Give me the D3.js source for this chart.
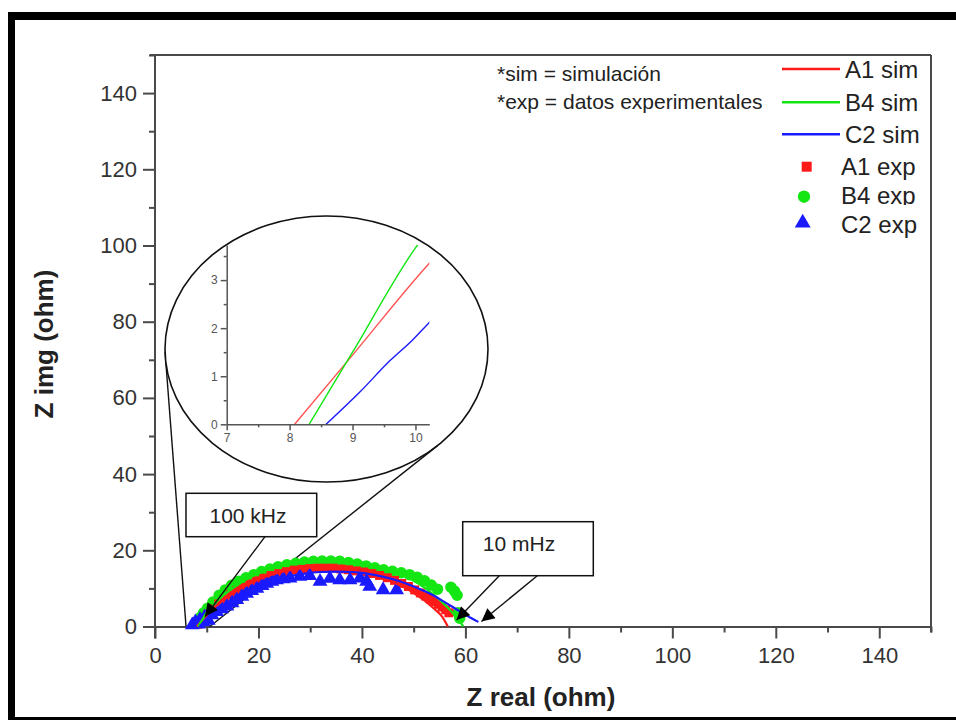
<!DOCTYPE html>
<html>
<head>
<meta charset="utf-8">
<script src="https://cdn.jsdelivr.net/npm/d3@7"></script>
<style>
  html, body { margin: 0; padding: 0; background: #fff; }
  svg { display: block; font-family: "Liberation Sans", Arial, Helvetica, sans-serif; }
</style>
</head>
<body>
<svg id="chart" width="956" height="720"></svg>
<script>
// ---- Impedance data: [Z real, Z img] in ohm ----
const simA1 = [[8.08,0],[9.0,1.44],[10.22,3.35],[12,5.6],[14,7.7],[16,9.5],[18,11.0],[20,12.3],[23,13.8],[26,14.8],[29,15.4],[32,15.6],[35,15.4],[38,14.9],[41,14.0],[44,12.8],[47,11.0],[50,8.8],[52,6.9],[54,4.6],[55.5,2.6],[56.6,0]];
const simB4 = [[8.31,0],[9.0,1.5],[10.0,3.67],[11,5.2],[13,7.9],[15,10.0],[17,11.8],[20,13.9],[23,15.4],[26,16.5],[29,17.2],[32,17.6],[35,17.6],[38,17.2],[41,16.5],[44,15.5],[47,14.0],[50,12.0],[52,10.3],[54,8.2],[56,5.7],[57.5,3.6],[58.8,1.5],[59.6,0]];
const simC2 = [[8.58,0],[9.1,0.65],[9.6,1.33],[9.95,1.75],[10.22,2.12],[12,4.1],[14,6.1],[16,7.8],[18,9.3],[20,10.6],[23,12.1],[26,13.2],[29,13.9],[32,14.3],[35,14.4],[38,14.3],[41,13.9],[44,13.1],[47,12.0],[50,10.5],[53,8.7],[56,6.4],[59,3.9],[61,2.3],[62.5,1.2]];

const expA1 = [[8.3,0.6],[9.2,1.8],[10.2,3.2],[11.2,4.6],[12.3,5.9],[13.4,7.1],[14.6,8.3],[15.8,9.4],[17.0,10.3],[18.3,11.2],[19.6,12.0],[21.0,12.7],[22.4,13.4],[23.9,13.9],[25.4,14.4],[26.9,14.8],[28.4,15.0],[29.9,15.2],[31.4,15.3],[32.9,15.3],[34.4,15.3],[35.9,15.1],[37.4,14.9],[38.9,14.6],[40.4,14.3],[41.9,13.9],[43.4,13.4],[44.9,12.8],[46.3,12.1],[47.7,11.3],[49.0,10.5],[50.2,9.6],[51.3,8.8],[52.3,8.0],[53.2,7.2],[54.0,6.5],[54.8,5.8],[55.5,5.1],[56.2,4.4],[56.8,3.6]];
const expB4 = [[8.3,1.0],[8.8,2.4],[9.4,3.6],[10.2,4.8],[11.2,6.4],[12.4,8.2],[13.6,9.6],[14.8,10.8],[16.2,11.9],[17.6,12.8],[19.1,13.6],[20.6,14.4],[22.2,15.1],[23.8,15.7],[25.5,16.2],[27.2,16.6],[28.9,16.9],[30.6,17.1],[32.3,17.2],[34.0,17.2],[35.7,17.1],[37.4,16.8],[39.1,16.4],[40.8,15.9],[42.5,15.4],[44.2,14.9],[45.9,14.5],[47.6,14.1],[49.2,13.6],[50.7,12.9],[52.1,12.0],[53.4,10.9],[54.6,9.8],[57.2,10.3],[57.9,9.3],[58.4,8.2],[58.6,3.6],[58.9,2.2]];
const expC2 = [[7.2,0.4],[7.8,1.2],[8.4,0.6],[8.7,1.8],[9.3,1.2],[9.6,2.5],[10.3,1.6],[11.0,3.0],[11.9,3.9],[12.9,4.6],[13.9,5.3],[14.9,6.2],[15.8,7.0],[16.8,7.9],[17.7,8.7],[18.7,9.4],[19.7,10.0],[20.7,10.7],[21.6,11.3],[22.6,11.8],[23.5,12.2],[24.8,12.5],[26.1,12.7],[28.0,13.1],[29.9,13.3],[31.9,11.8],[33.8,12.6],[35.7,12.2],[37.7,12.2],[39.6,12.7],[40.9,11.8],[41.5,10.5],[44.1,9.6],[46.7,9.6]];

// ---- Axis ticks ----
const majorTicks = [0,20,40,60,80,100,120,140];
const minorTicks = [10,30,50,70,90,110,130,150];
const insetXTicks = [7,8,9,10];
const insetXMinor = [7.5,8.5,9.5];
const insetYTicks = [0,1,2,3];
const insetYMinor = [0.5,1.5,2.5,3.5];

// ---- Labels ----
const xTitle = "Z real (ohm)";
const yTitle = "Z img (ohm)";
const noteLines = ["*sim = simulación", "*exp = datos experimentales"];
const simLabels = ["A1 sim", "B4 sim", "C2 sim"];
const expLabels = ["A1 exp", "B4 exp", "C2 exp"];
const colors = ["#ff1a1a", "#14e614", "#1a1aff"];
const freqLabels = ["100 kHz", "10 mHz"];
// arrow tips in data units
const arrowTips = [[9.66,2.6],[58.3,1.7],[63.1,1.3]];
// feet of the zoom-indicator lines on the real axis
const zoomFeet = [[6.0,0],[10.6,0]];

const svg = d3.select("#chart");
const axisColor = "#4a4a4a";
const textColor = "#333";

// outer frame
svg.append("rect").attr("x",8).attr("y",12).attr("width",948).attr("height",8).attr("fill","#000");
svg.append("rect").attr("x",8).attr("y",12).attr("width",7).attr("height",708).attr("fill","#000");
svg.append("rect").attr("x",8).attr("y",717).attr("width",948).attr("height",3).attr("fill","#000");

// main scales
const x = d3.scaleLinear().domain([0,150]).range([155,931]);
const y = d3.scaleLinear().domain([0,150]).range([626.5,55]);

// defs: arrowhead
const defs = svg.append("defs");
defs.append("marker").attr("id","arrowhead").attr("viewBox","0 0 10 10")
  .attr("refX",10).attr("refY",5).attr("markerWidth",15).attr("markerHeight",13)
  .attr("markerUnits","userSpaceOnUse").attr("orient","auto")
  .append("path").attr("d","M0,0L10,5L0,10Z").attr("fill","#000");

// box top and right edges
svg.append("line").attr("x1",x(0)-5).attr("x2",x(150)).attr("y1",y(150)).attr("y2",y(150))
  .attr("stroke",axisColor).attr("stroke-width",2);
svg.append("line").attr("x1",x(150)).attr("x2",x(150)).attr("y1",y(150)).attr("y2",y(0)+6)
  .attr("stroke",axisColor).attr("stroke-width",2);

function styleAxis(g){
  g.select(".domain").attr("stroke",axisColor).attr("stroke-width",2);
  g.selectAll(".tick line").attr("stroke",axisColor).attr("stroke-width",2);
  g.selectAll(".tick text").attr("fill",textColor);
}

// x axis
const gx = svg.append("g").attr("transform",`translate(0,${y(0)})`)
  .call(d3.axisBottom(x).tickValues(majorTicks).tickSize(12).tickPadding(9).tickSizeOuter(0).tickFormat(d3.format("d")));
gx.attr("font-size",22).attr("font-family",null);
styleAxis(gx);
const gxm = svg.append("g").attr("transform",`translate(0,${y(0)})`)
  .call(d3.axisBottom(x).tickValues(minorTicks).tickSize(6).tickSizeOuter(0).tickFormat(""));
styleAxis(gxm); gxm.select(".domain").remove();

// y axis
const gy = svg.append("g").attr("transform",`translate(${x(0)},0)`)
  .call(d3.axisLeft(y).tickValues(majorTicks).tickSize(12).tickPadding(6).tickSizeOuter(0).tickFormat(d3.format("d")));
gy.attr("font-size",22).attr("font-family",null);
styleAxis(gy);
gy.select(".domain").attr("d",`M0,${y(150)}V${y(0)+12}`);
const gym = svg.append("g").attr("transform",`translate(${x(0)},0)`)
  .call(d3.axisLeft(y).tickValues(minorTicks).tickSize(6).tickSizeOuter(0).tickFormat(""));
styleAxis(gym); gym.select(".domain").remove();

// axis titles
svg.append("text").attr("x",541).attr("y",706).attr("text-anchor","middle")
  .attr("font-size",26).attr("font-weight","bold").attr("fill","#222").text(xTitle);
svg.append("text").attr("transform","translate(53,344) rotate(-90)").attr("text-anchor","middle")
  .attr("font-size",26).attr("font-weight","bold").attr("fill","#222").text(yTitle);

// inset ellipse and zoom-indicator lines
const ell = {cx:326.5, cy:349, rx:161.5, ry:133};
const ellPoint = a => [ell.cx + ell.rx*Math.cos(a), ell.cy + ell.ry*Math.sin(a)];
const zoomStarts = [ellPoint(Math.PI - 0.02), ellPoint(0.81)];
zoomFeet.forEach((f,i)=>{
  svg.append("line").attr("x1",zoomStarts[i][0]).attr("y1",zoomStarts[i][1])
    .attr("x2",x(f[0])).attr("y2",y(f[1])).attr("stroke","#111").attr("stroke-width",1.4);
});

// experimental points
const line = d3.line().x(d=>x(d[0])).y(d=>y(d[1])).curve(d3.curveMonotoneX);
const sq = d3.symbol().type(d3.symbolSquare).size(80);
const ci = d3.symbol().type(d3.symbolCircle).size(105);
const tr = d3.symbol().type(d3.symbolTriangle).size(95);

svg.append("g").selectAll("path").data(expB4).join("path")
  .attr("d",ci).attr("transform",d=>`translate(${x(d[0])},${y(d[1])})`).attr("fill",colors[1]);
svg.append("g").selectAll("path").data(expA1).join("path")
  .attr("d",sq).attr("transform",d=>`translate(${x(d[0])},${y(d[1])})`).attr("fill",colors[0]);
svg.append("g").selectAll("path").data(expC2).join("path")
  .attr("d",tr).attr("transform",d=>`translate(${x(d[0])},${y(d[1])})`).attr("fill",colors[2]);

// simulated curves
[simA1, simB4, simC2].forEach((s,i)=>{
  svg.append("path").datum(s).attr("d",line).attr("fill","none")
    .attr("stroke",colors[i]).attr("stroke-width",2.2);
});

// inset
svg.append("ellipse").attr("cx",ell.cx).attr("cy",ell.cy).attr("rx",ell.rx).attr("ry",ell.ry)
  .attr("fill","#fff").attr("stroke","#111").attr("stroke-width",1.6);
const xi = d3.scaleLinear().domain([7,10.22]).range([226.7,429.3]);
const yi = d3.scaleLinear().domain([0,3.73]).range([424.3,245]);
const insetColor = "#555";
const gxi = svg.append("g").attr("transform",`translate(0,${yi(0)})`)
  .call(d3.axisBottom(xi).tickValues(insetXTicks).tickSize(6).tickPadding(3).tickSizeOuter(0).tickFormat(d3.format("d")));
const gxim = svg.append("g").attr("transform",`translate(0,${yi(0)})`)
  .call(d3.axisBottom(xi).tickValues(insetXMinor).tickSize(3).tickSizeOuter(0).tickFormat(""));
const gyi = svg.append("g").attr("transform",`translate(${xi(7)},0)`)
  .call(d3.axisLeft(yi).tickValues(insetYTicks).tickSize(6).tickPadding(3).tickSizeOuter(0).tickFormat(d3.format("d")));
const gyim = svg.append("g").attr("transform",`translate(${xi(7)},0)`)
  .call(d3.axisLeft(yi).tickValues(insetYMinor).tickSize(3).tickSizeOuter(0).tickFormat(""));
[gxi,gxim,gyi,gyim].forEach(g=>{
  g.attr("font-size",12).attr("font-family",null);
  g.select(".domain").attr("stroke",insetColor).attr("stroke-width",1.5);
  g.selectAll(".tick line").attr("stroke",insetColor).attr("stroke-width",1.5);
  g.selectAll(".tick text").attr("fill",insetColor);
});
gxim.select(".domain").remove(); gyim.select(".domain").remove();

defs.append("clipPath").attr("id","insetClip").append("rect")
  .attr("x",xi(7)).attr("y",yi(3.73)).attr("width",xi(10.22)-xi(7)).attr("height",yi(0)-yi(3.73));
const lineI = d3.line().x(d=>xi(d[0])).y(d=>yi(d[1])).curve(d3.curveMonotoneX);
const insetG = svg.append("g").attr("clip-path","url(#insetClip)");
[simA1, simB4, simC2].forEach((s,i)=>{
  insetG.append("path").datum(s.filter(d=>d[0] <= 12.5)).attr("d",lineI).attr("fill","none")
    .attr("stroke",colors[i]).attr("stroke-width",1.4).attr("opacity",i===0?0.75:1);
});

// frequency annotation boxes and arrows
const boxes = [
  {x:186, y:493.3, w:130.7, h:43.4, tx:248, ty:522.5, label:freqLabels[0], from:[[265,536.7]], tips:[arrowTips[0]]},
  {x:462.7, y:521.7, w:130.6, h:54, tx:519, ty:550.5, label:freqLabels[1], from:[[499.3,575.7],[537.3,575.7]], tips:[arrowTips[1],arrowTips[2]]}
];
boxes.forEach(b=>{
  b.from.forEach((f,i)=>{
    svg.append("line").attr("x1",f[0]).attr("y1",f[1]).attr("x2",x(b.tips[i][0])).attr("y2",y(b.tips[i][1]))
      .attr("stroke","#111").attr("stroke-width",1.4).attr("marker-end","url(#arrowhead)");
  });
  svg.append("rect").attr("x",b.x).attr("y",b.y).attr("width",b.w).attr("height",b.h)
    .attr("fill","#fff").attr("stroke","#111").attr("stroke-width",1.5);
  svg.append("text").attr("x",b.tx).attr("y",b.ty).attr("text-anchor","middle")
    .attr("font-size",21).attr("fill","#222").text(b.label);
});

// notes
noteLines.forEach((t,i)=>{
  svg.append("text").attr("x",497).attr("y",[81,109][i]).attr("font-size",21).attr("fill","#222").text(t);
});

// legend
const simRows = [69,102.3,134.3];
simLabels.forEach((t,i)=>{
  svg.append("line").attr("x1",782).attr("x2",840).attr("y1",simRows[i]).attr("y2",simRows[i])
    .attr("stroke",colors[i]).attr("stroke-width",2.5);
  svg.append("text").attr("x",845).attr("y",simRows[i]+9).attr("font-size",24).attr("fill","#222").text(t);
});
const expRows = [166.7,196.7,223];
const legSyms = [
  d3.symbol().type(d3.symbolSquare).size(100),
  d3.symbol().type(d3.symbolCircle).size(120),
  d3.symbol().type(d3.symbolTriangle).size(110)
];
defs.append("clipPath").attr("id","legClip").append("rect").attr("x",830).attr("y",180).attr("width",100).attr("height",25);
expLabels.forEach((t,i)=>{
  svg.append("path").attr("d",legSyms[i]).attr("transform",`translate(${[806.7,804,802.7][i]},${expRows[i]})`).attr("fill",colors[i]);
  const tx = svg.append("text").attr("x",841).attr("y",[175,204,232.5][i]).attr("font-size",24).attr("fill","#222").text(t);
  if (i===1) tx.attr("clip-path","url(#legClip)");
});
</script>
</body>
</html>
